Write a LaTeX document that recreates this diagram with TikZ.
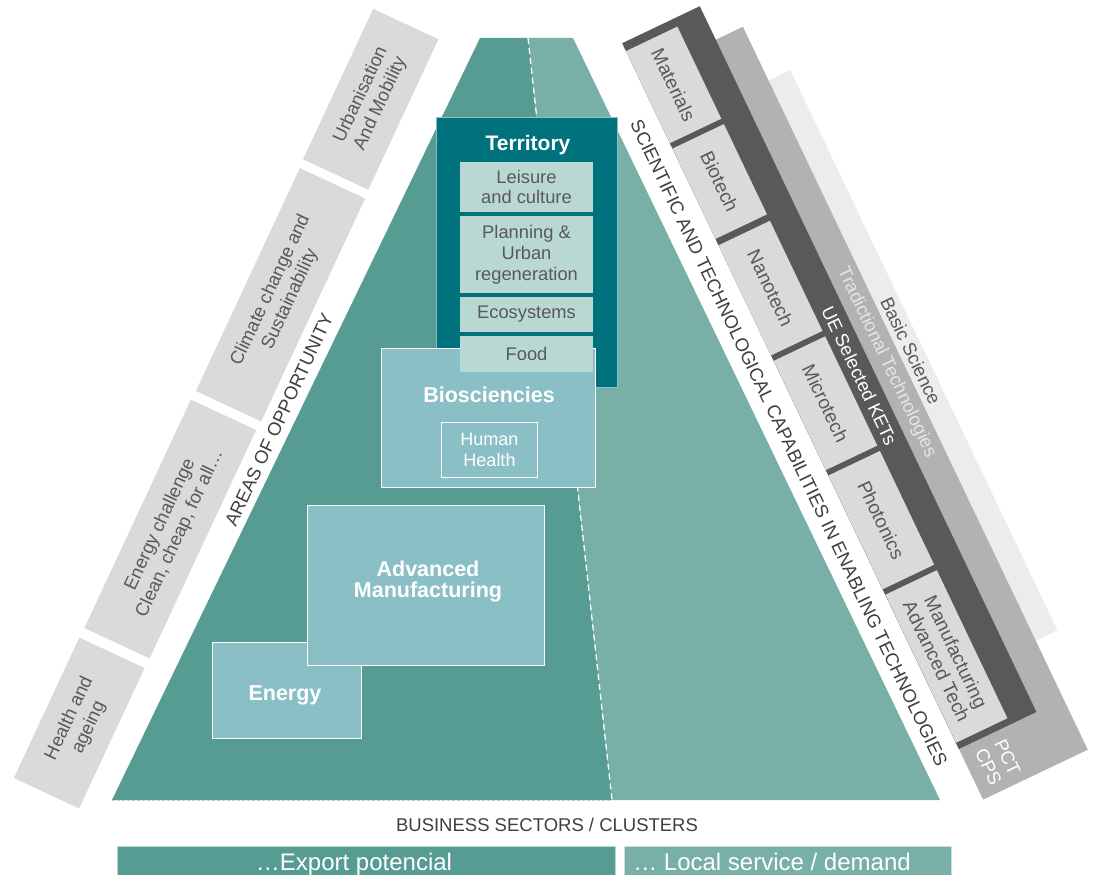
\documentclass[tikz,border=0pt]{standalone}
\usepackage{fontspec}
\setmainfont{Liberation Sans}
\definecolor{tealL}{HTML}{569C93}
\definecolor{tealR}{HTML}{78B0A8}
\definecolor{terrc}{HTML}{00727E}
\definecolor{subbox}{HTML}{BAD8D3}
\definecolor{bioc}{HTML}{8ABFC6}
\definecolor{bandc}{HTML}{D9DADB}
\definecolor{txt}{HTML}{595959}
\definecolor{txtd}{HTML}{3F3F3F}
\definecolor{darkband}{HTML}{58595B}
\definecolor{midband}{HTML}{B1B2B4}
\definecolor{lightband}{HTML}{ECECEC}
\definecolor{tradtxt}{HTML}{E6E6E6}
\begin{document}
\begin{tikzpicture}[x=1pt,y=-1pt,
  lband/.style={fill=bandc, rotate=65, minimum height=72pt, inner sep=0pt, text=txt,
    font=\fontsize{18.5}{21.5}\selectfont, align=center},
  rband/.style={rotate=-64.5, inner sep=0pt},
  tbox/.style={rband, fill=bandc, minimum height=57pt, text=txt,
    font=\fontsize{19.2}{21.5}\selectfont, align=center},
  rlabel/.style={rotate=-64.5, inner sep=0pt, font=\fontsize{18.5}{21}\selectfont, align=center},
  subb/.style={fill=subbox, minimum width=133pt, inner sep=0pt, text=txt,
    font=\fontsize{18.3}{20.8}\selectfont, align=center},
  biob/.style={fill=bioc, draw=white, line width=1pt, inner sep=0pt, anchor=north west},
  boldw/.style={text=white, font=\bfseries\fontsize{21.5}{22}\selectfont, align=center},
  barb/.style={minimum height=40pt, inner sep=0pt, anchor=north west, line width=0.8pt}
]
\useasboundingbox (0,0) rectangle (1093,875);
\clip (0,0) rectangle (1093,875);

% pyramid
\coordinate (tl) at (480,38);
\coordinate (tm) at (528,38);
\coordinate (tr) at (573,38);
\coordinate (bl) at (112,800);
\coordinate (bm) at (612,800);
\coordinate (br) at (940,800);
\fill[tealL] (tl)--(tm)--(bm)--(bl)--cycle;
\fill[tealR] (tm)--(tr)--(br)--(bm)--cycle;
\draw[white, line width=1.3pt, dash pattern=on 6pt off 4pt] (tm)--(bm);
\draw[white!55!tealL, line width=0.7pt, dash pattern=on 3pt off 2pt] (bl)--(bm);

% left bands (areas of opportunity)
\node[lband, minimum width=166pt] (urb) at (370.75,99.25) {Urbanisation\\And Mobility};
\node[lband, minimum width=246pt] (clim) at (280.5,294.75) {Climate change and\\Sustainability};
\node[lband, minimum width=252pt] (ener) at (170.25,529) {Energy challenge\\Clean, cheap, for all…};
\node[lband, minimum width=155pt] (health) at (79.25,723) {Health and\\ageing};
\node[rotate=65, inner sep=0pt, text=txtd, font=\fontsize{18.5}{21}\selectfont] (areas) at (279,420) {AREAS OF OPPORTUNITY};

% right bands
\node[rband, fill=lightband, minimum width=621pt, minimum height=140pt] (basic) at (860.7,380.4) {};
\node[rband, fill=midband, minimum width=801pt, minimum height=116pt] (trad) at (863,413.2) {};
\node[rband, fill=darkband, minimum width=782pt, minimum height=86pt] (kets) at (829.3,377.6) {};
\node[tbox, minimum width=102pt] (mat) at (673.6,84.9) {Materials};
\node[tbox, minimum width=100pt] (biot) at (719.7,181.5) {Biotech};
\node[tbox, minimum width=122pt] (nano) at (770.5,288.1) {Nanotech};
\node[tbox, minimum width=121pt] (micro) at (825.5,403.2) {Microtech};
\node[tbox, minimum width=126pt] (phot) at (881.3,520.1) {Photonics};
\node[tbox, minimum width=164pt] (manu) at (946.4,656.5) {Manufacturing\\Advanced Tech};
\node[rlabel, text=white] (uelab) at (859.4,375.4) {UE Selected KETs};
\node[rlabel, text=tradtxt] (tradlab) at (886.5,362.5) {Tradictional Technologies};
\node[rlabel, text=txt] (basiclab) at (910.9,350.8) {Basic Science};
\node[rlabel, text=white] (pct) at (998,762) {PCT\\CPS};
\node[rlabel, text=txtd] (sci) at (789,443) {SCIENTIFIC AND TECHNOLOGICAL CAPABILITIES IN ENABLING TECHNOLOGIES};

% territory
\node[fill=terrc, draw=white!55!terrc, line width=0.8pt, minimum width=181pt, minimum height=270pt,
  inner sep=0pt, anchor=north west] (terr) at (436,117) {};
\node[anchor=base, text=white, font=\bfseries\fontsize{21}{22}\selectfont] (terrt) at (528,150) {Territory};
\node[subb, minimum height=50pt] (leis) at (526.5,187) {Leisure\\and culture};
\node[subb, minimum height=77pt] (plan) at (526.5,254.5) {Planning \&\\Urban\\regeneration};
\node[subb, minimum height=35pt] (eco) at (526.5,314.5) {Ecosystems};

% biosciencies
\node[biob, minimum width=214pt, minimum height=139pt] (bios) at (381,348) {};
\node[subb, minimum height=36pt] (food) at (526.5,354) {Food};
\node[boldw] (biost) at (489,395) {Biosciencies};
\node[biob, minimum width=96pt, minimum height=55pt, text=white,
  font=\fontsize{18}{21}\selectfont, align=center] (hh) at (441,422) {Human\\Health};

% energy & advanced manufacturing
\node[biob, minimum width=149pt, minimum height=96pt] (energy) at (212,642) {};
\node[boldw, anchor=base] at (285,700) (energyt) {Energy};
\node[biob, minimum width=237pt, minimum height=160pt] (adv) at (307,505) {};
\node[boldw, font=\bfseries\fontsize{21.5}{21}\selectfont] at (428,581) (advt) {Advanced\\Manufacturing};

% bottom
\node[text=txtd, font=\fontsize{18.5}{20}\selectfont] (bs) at (547,825) {BUSINESS SECTORS / CLUSTERS};
\node[barb, fill=tealL, draw=white!60!tealL, minimum width=498pt] (exp) at (117,846) {};
\node[barb, fill=tealR, draw=white!60!tealR, minimum width=327pt] (loc) at (624,846) {};
\node[anchor=base, text=white, font=\fontsize{24}{25}\selectfont] (expt) at (354,870) {…Export potencial};
\node[anchor=base, text=white, font=\fontsize{24}{25}\selectfont] (loct) at (772,870) {… Local service / demand};
\end{tikzpicture}
\end{document}
